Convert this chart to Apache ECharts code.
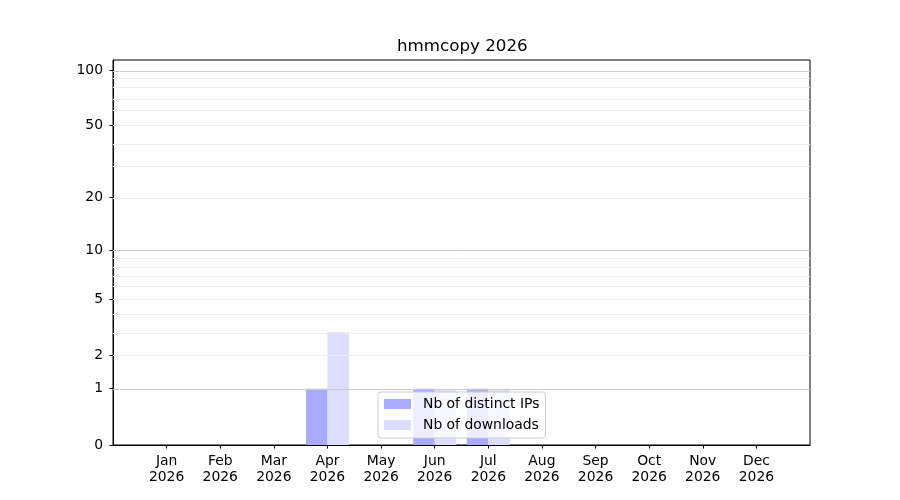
<!DOCTYPE html>
<html>
<head>
<meta charset="utf-8">
<script src="https://cdn.jsdelivr.net/npm/echarts@6/dist/echarts.min.js"></script>
<style>html,body{margin:0;padding:0;background:#fff}#c{width:900px;height:500px}</style>
</head>
<body>
<div id="c"></div>
<script>
var months = ['Jan', 'Feb', 'Mar', 'Apr', 'May', 'Jun', 'Jul', 'Aug', 'Sep', 'Oct', 'Nov', 'Dec'];
var year = '2026';
var distinctIPs = [0, 0, 0, 1, 0, 1, 1, 0, 0, 0, 0, 0];
var downloads = [0, 0, 0, 3, 0, 1, 1, 0, 0, 0, 0, 0];
var yTicks = [0, 1, 2, 5, 10, 20, 50, 100];
var majorGrid = [1, 10, 100];
var minorGrid = [2, 3, 4, 5, 6, 7, 8, 9, 20, 30, 40, 50, 60, 70, 80, 90];
var yMaxRaw = 113.3;

function tf(v) { return Math.log10(1 + v); }
function inv(t) { return Math.round(Math.pow(10, t) - 1); }

var font = 'DejaVu Sans';
var chart = echarts.init(document.getElementById('c'), null, {renderer: 'canvas'});

var gridLines = majorGrid.map(function (v) {
  return {yAxis: tf(v), lineStyle: {color: '#cccccc', width: 1, type: 'solid'}};
}).concat(minorGrid.map(function (v) {
  return {yAxis: tf(v), lineStyle: {color: '#ececec', width: 1, type: 'solid'}};
}));

var monthIdx = months.map(function (m, i) { return i; });

chart.setOption({
  animation: false,
  title: {
    text: 'hmmcopy ' + year,
    left: 397,
    top: 38,
    padding: 0,
    textStyle: {fontFamily: font, fontSize: 16.7, fontWeight: 'normal', color: '#000'}
  },
  grid: {
    left: 113, right: 90, top: 60, bottom: 55,
    show: true, borderColor: '#000', borderWidth: 1, backgroundColor: 'transparent'
  },
  legend: {
    orient: 'vertical',
    left: 378, top: 392,
    padding: [4, 6, 5, 6],
    itemGap: 5,
    itemWidth: 27, itemHeight: 10,
    icon: 'rect',
    backgroundColor: 'rgba(255,255,255,0.8)',
    borderColor: '#cccccc', borderWidth: 1, borderRadius: 3,
    textStyle: {fontFamily: font, fontSize: 13.9, color: '#000', padding: [0, 0, 0, 7], lineHeight: 16},
    data: ['Nb of distinct IPs', 'Nb of downloads']
  },
  xAxis: {
    type: 'value', min: -1, max: 12,
    axisLine: {show: true, onZero: false, lineStyle: {color: '#000', width: 1}},
    axisTick: {show: true, length: 3.5, lineStyle: {color: '#000', width: 1}, customValues: monthIdx},
    axisLabel: {
      customValues: monthIdx,
      margin: 8,
      fontFamily: font, fontSize: 13.9, color: '#000', lineHeight: 16,
      formatter: function (v) { return months[Math.round(v)] + '\n' + year; }
    },
    splitLine: {show: false}
  },
  yAxis: {
    type: 'value', min: 0, max: tf(yMaxRaw),
    axisLine: {show: true, onZero: false, lineStyle: {color: '#000', width: 1}},
    axisTick: {show: true, length: 3.5, lineStyle: {color: '#000', width: 1}, customValues: yTicks.map(tf)},
    axisLabel: {
      customValues: yTicks.map(tf),
      margin: 10,
      fontFamily: font, fontSize: 13.9, color: '#000',
      formatter: function (v) { return String(inv(v)); }
    },
    splitLine: {show: false}
  },
  series: [
    {
      name: 'Nb of distinct IPs', type: 'bar',
      barWidth: 21.5, barGap: '0%',
      itemStyle: {color: '#aaaaff'},
      data: distinctIPs.map(function (v, i) { return [i, tf(v)]; }),
      markLine: {silent: true, symbol: 'none', label: {show: false}, z: 3, data: gridLines}
    },
    {
      name: 'Nb of downloads', type: 'bar',
      barWidth: 21.5, barGap: '0%',
      itemStyle: {color: '#ddddff'},
      data: downloads.map(function (v, i) { return [i, tf(v)]; })
    }
  ]
});
</script>
</body>
</html>
